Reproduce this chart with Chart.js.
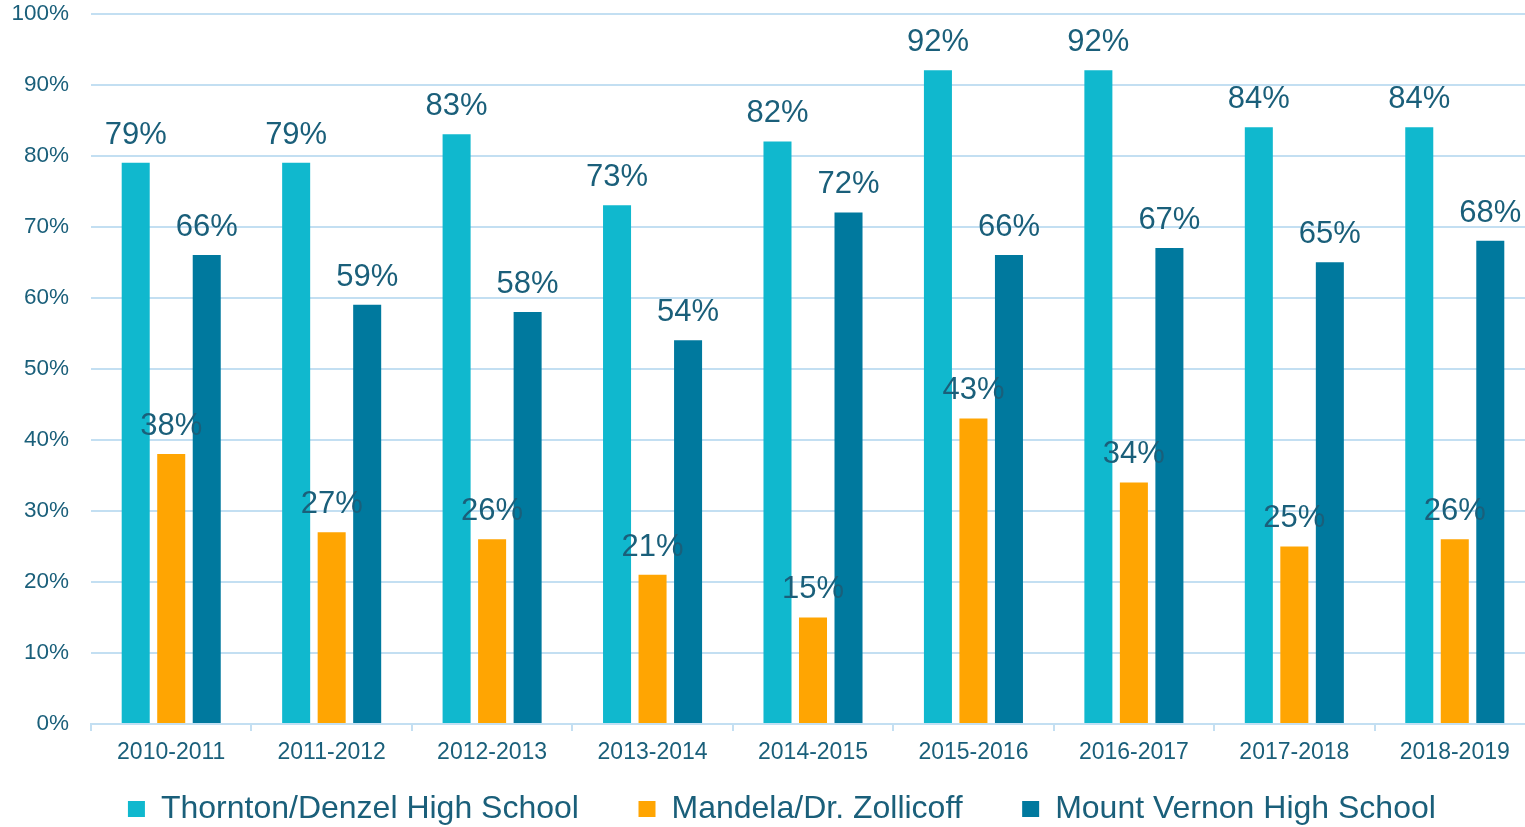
<!DOCTYPE html>
<html>
<head>
<meta charset="utf-8">
<script src="https://cdn.jsdelivr.net/npm/chart.js@4"></script>
<style>
  html, body { margin: 0; padding: 0; background: #fff; overflow: hidden; }
  #chart { display: block; }
</style>
</head>
<body>
<!-- the original plot runs a few pixels past the right edge of the picture -->
<canvas id="chart" width="1535" height="827"></canvas>
<script>
const years = ['2010-2011', '2011-2012', '2012-2013', '2013-2014', '2014-2015',
  '2015-2016', '2016-2017', '2017-2018', '2018-2019'];
const thornton = [79, 79, 83, 73, 82, 92, 92, 84, 84];
const mandela = [38, 27, 26, 21, 15, 43, 34, 25, 26];
const mountVernon = [66, 59, 58, 54, 72, 66, 67, 65, 68];
const schoolNames = ['Thornton/Denzel High School', 'Mandela/Dr. Zollicoff', 'Mount Vernon High School'];

const textColor = '#1a5f7a';
const gridColor = '#c3dff2';
const fontFamily = '"Liberation Sans", Arial, sans-serif';

// value labels above every bar
const barLabels = {
  id: 'barLabels',
  afterDatasetsDraw(chart) {
    const ctx = chart.ctx;
    ctx.save();
    ctx.font = '31px ' + fontFamily;
    ctx.fillStyle = textColor;
    ctx.textAlign = 'center';
    ctx.textBaseline = 'alphabetic';
    chart.data.datasets.forEach((ds, i) => {
      chart.getDatasetMeta(i).data.forEach((bar, j) => {
        ctx.fillText(ds.data[j] + '%', bar.x, bar.y - 19);
      });
    });
    ctx.restore();
  }
};

new Chart(document.getElementById('chart'), {
  type: 'bar',
  data: {
    labels: years,
    datasets: [
      { label: schoolNames[0], data: thornton, backgroundColor: '#10b8ce' },
      { label: schoolNames[1], data: mandela, backgroundColor: '#ffa502' },
      { label: schoolNames[2], data: mountVernon, backgroundColor: '#00799e' }
    ]
  },
  options: {
    responsive: false,
    animation: false,
    devicePixelRatio: 1,
    layout: { padding: { top: 13, left: 0, right: 0, bottom: -8 } },
    datasets: {
      bar: { categoryPercentage: 0.664, barPercentage: 0.789 }
    },
    scales: {
      x: {
        grid: { drawOnChartArea: false, color: gridColor, lineWidth: 2, tickLength: 7 },
        border: { color: gridColor, width: 2 },
        ticks: { color: textColor, font: { family: fontFamily, size: 23 }, padding: 8, maxRotation: 0 },
        afterFit(scale) { scale.height = 45; }
      },
      y: {
        min: 0,
        max: 100,
        // invisible tick marks give the gap between labels and grid
        grid: { color: gridColor, lineWidth: 2, tickLength: 22, tickColor: 'rgba(0,0,0,0)' },
        border: { display: false },
        ticks: {
          stepSize: 10,
          color: textColor,
          font: { family: fontFamily, size: 22.5 },
          padding: 0,
          callback: (v) => v + '%'
        },
        afterFit(scale) { scale.width = 91; }
      }
    },
    plugins: {
      legend: {
        position: 'bottom',
        fullSize: false,
        labels: {
          color: textColor,
          font: { family: fontFamily, size: 32 },
          boxWidth: 17,
          boxHeight: 16,
          padding: 24,
          generateLabels(chart) {
            const items = Chart.defaults.plugins.legend.labels.generateLabels(chart);
            // extra room after each entry so the row sits like the original
            items.forEach((it, i) => { it.text += i < items.length - 1 ? '    ' : '       '; });
            return items;
          }
        }
      },
      tooltip: { enabled: false }
    }
  },
  plugins: [barLabels]
});
</script>
</body>
</html>
